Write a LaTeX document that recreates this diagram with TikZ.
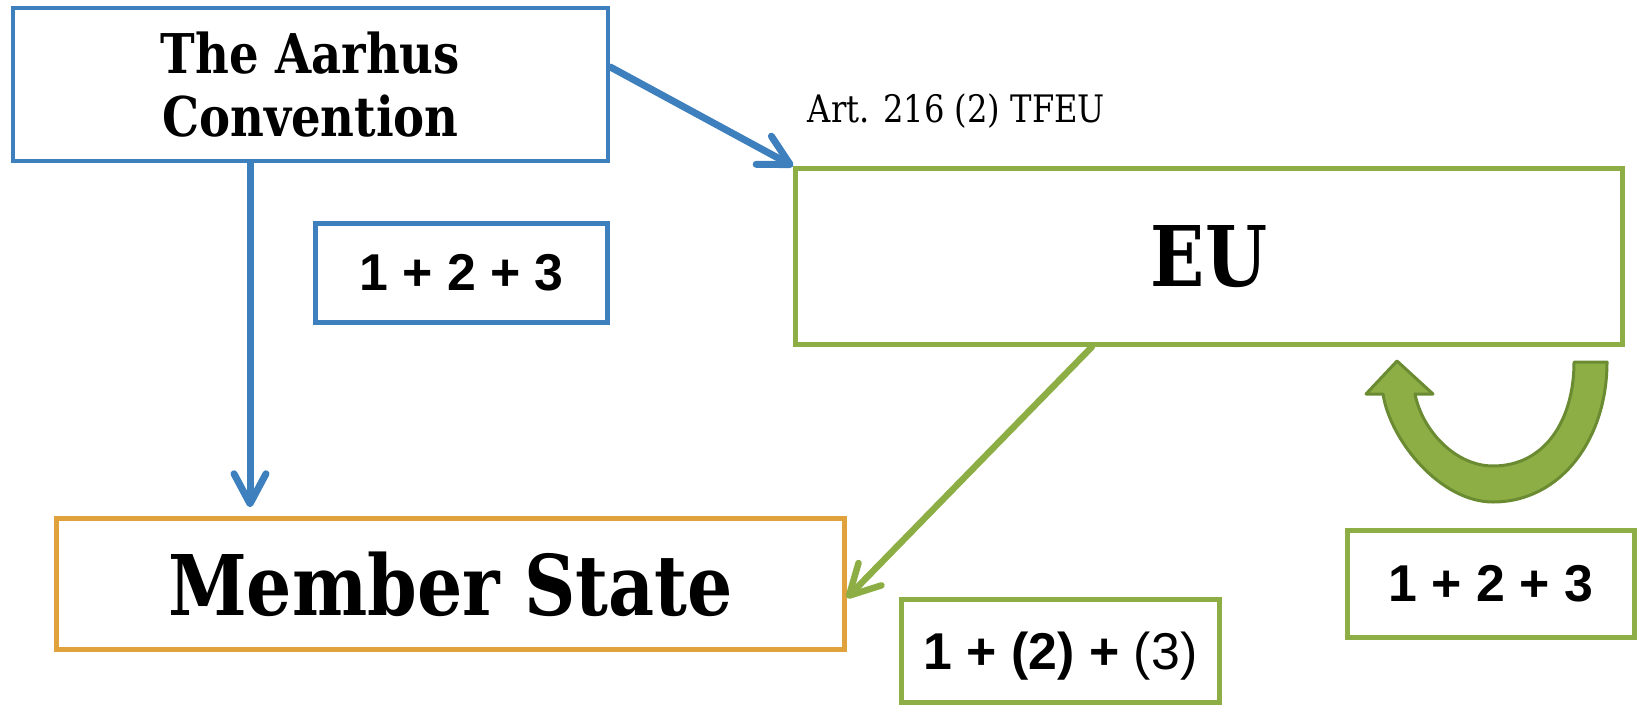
\documentclass[tikz,border=0pt]{standalone}
\usepackage{fontspec}
\setmainfont{Liberation Sans}
\newfontfamily\slab[FakeStretch=0.85]{DejaVu Serif}
\usetikzlibrary{arrows.meta}
\definecolor{blueC}{HTML}{3D80BD}
\definecolor{greenC}{HTML}{8DAE45}
\definecolor{orangeC}{HTML}{E0A23D}
\definecolor{darkG}{HTML}{6A8B32}
\tikzset{
  box/.style={draw, line width=4.5bp, inner sep=0pt},
  conn/.style={line width=7bp, line cap=round, line join=round,
    -{Straight Barb[length=30bp,width=32bp,round]}},
  numfont/.style={font=\bfseries\fontsize{52}{60}\selectfont},
  bigfont/.style={font=\slab\bfseries\fontsize{84}{90}\selectfont},
}
\begin{document}
\begin{tikzpicture}[x=1bp,y=-1bp]
\useasboundingbox (0,0) rectangle (1639,707);
\node[box, draw=blueC, minimum width=595bp, minimum height=153bp, align=center,
  font=\slab\bfseries\fontsize{55}{64}\selectfont] (aarhus) at (310.5,84.5) {The Aarhus\\Convention};
\node[box, draw=blueC, minimum width=292bp, minimum height=99bp, numfont] (b1) at (461.5,273) {1 + 2 + 3};
\node[box, draw=greenC, minimum width=827bp, minimum height=176bp, bigfont] (eu) at (1209,256.5) {EU};
\node[box, draw=orangeC, minimum width=788bp, minimum height=131bp, bigfont] (ms) at (450.5,584) {Member State};
\node[box, draw=greenC, minimum width=318bp, minimum height=103bp, numfont, text depth=0pt] (g1) at (1060.5,651) {1 + (2) + {\mdseries(3)}};
\node[box, draw=greenC, minimum width=287bp, minimum height=107bp, numfont] (g2) at (1491,584) {1 + 2 + 3};
\node[anchor=base, inner sep=0pt, font=\slab\fontsize{38}{44}\selectfont] (art) at (956.5,123) {Art. 216 (2) TFEU};
\coordinate (vx) at (250,0);
\draw[conn, draw=blueC] (aarhus.south -| vx) -- ([yshift=9bp]ms.north -| vx);
\draw[conn, draw=blueC] ([yshift=17.5bp]aarhus.east) -- (eu.north west);
\draw[conn, draw=greenC, line width=6.5bp] ([xshift=-117bp]eu.south) -- ([yshift=-14bp]ms.east);
\draw[line width=3bp, draw=darkG, fill=greenC, line join=round]
  (1607,362) .. controls (1607,440) and (1560,502) .. (1493,502)
  .. controls (1440,502) and (1390,440) .. (1383,394)
  -- (1366,394) -- (1397,361) -- (1433,394) -- (1415,394)
  .. controls (1422,430) and (1455,466) .. (1493,466)
  .. controls (1545,466) and (1574,420) .. (1574,362) -- cycle;
\end{tikzpicture}
\end{document}
